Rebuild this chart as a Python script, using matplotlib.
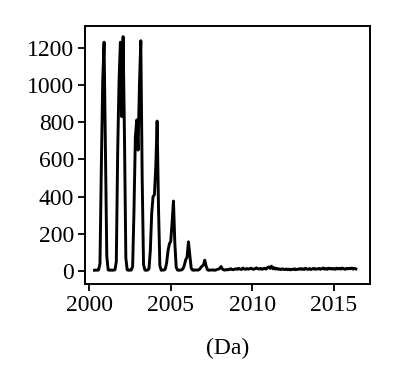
import numpy as np
import matplotlib
matplotlib.use('Agg')
import matplotlib.pyplot as plt

# monthly counts, first value = May 2000
start_year = 2000
start_month = 5
counts_2000 = [4, 5, 4, 6, 40, 560, 1020, 1230]
counts_2001 = [660, 80, 6, 4, 5, 4, 5, 6, 50, 640, 1020, 1230]
counts_2002 = [830, 1260, 720, 70, 6, 4, 5, 5, 25, 330, 720, 812]
counts_2003 = [650, 1000, 1238, 500, 35, 5, 4, 5, 12, 110, 310, 400]
counts_2004 = [410, 560, 806, 340, 28, 4, 5, 5, 10, 45, 110, 145]
counts_2005 = [160, 260, 376, 150, 20, 5, 4, 5, 6, 12, 32, 60]
counts_2006 = [75, 157, 85, 16, 5, 4, 6, 5, 5, 8, 18, 26]
counts_2007 = [32, 58, 26, 6, 4, 5, 5, 6, 4, 5, 8, 10]
counts_2008 = [14, 24, 10, 6, 5, 8, 6, 9, 12, 8, 7, 10]
counts_2009 = [12, 9, 14, 10, 8, 16, 11, 9, 13, 10, 12, 15]
counts_2010 = [11, 9, 13, 17, 12, 10, 14, 9, 12, 15, 10, 18]
counts_2011 = [22, 14, 26, 12, 18, 10, 14, 9, 11, 8, 12, 9]
counts_2012 = [8, 11, 7, 10, 6, 9, 8, 12, 7, 10, 9, 13]
counts_2013 = [9, 12, 8, 15, 10, 9, 13, 8, 11, 14, 9, 12]
counts_2014 = [10, 14, 9, 12, 16, 10, 13, 9, 15, 11, 14, 10]
counts_2015 = [13, 9, 15, 11, 14, 10, 16, 12, 9, 14, 11, 15]
counts_2016 = [12, 16, 10, 14, 11]

counts = (counts_2000 + counts_2001 + counts_2002 + counts_2003 + counts_2004 +
          counts_2005 + counts_2006 + counts_2007 + counts_2008 + counts_2009 +
          counts_2010 + counts_2011 + counts_2012 + counts_2013 + counts_2014 +
          counts_2015 + counts_2016)
t = start_year + (start_month - 1 + np.arange(len(counts))) / 12.0

plt.rcParams['font.family'] = ['Liberation Serif', 'DejaVu Serif']

fig = plt.figure(figsize=(3.98, 3.86), dpi=100)
ax = fig.add_axes([0.2136, 0.2642, 0.716, 0.6684])
ax.plot(t, counts, color='black', lw=2.1)

ax.set_xlim(1999.75, 2017.2)
ax.set_ylim(-70, 1317)
ax.set_xticks([2000, 2005, 2010, 2015])
ax.set_yticks([0, 200, 400, 600, 800, 1000, 1200])
ax.tick_params(direction='out', length=5, width=1.3, labelsize=17, pad=3)
for s in ax.spines.values():
    s.set_linewidth(1.4)
ax.set_xlabel('(Da)', fontsize=17, labelpad=16)

fig.savefig('out.png', dpi=100)
